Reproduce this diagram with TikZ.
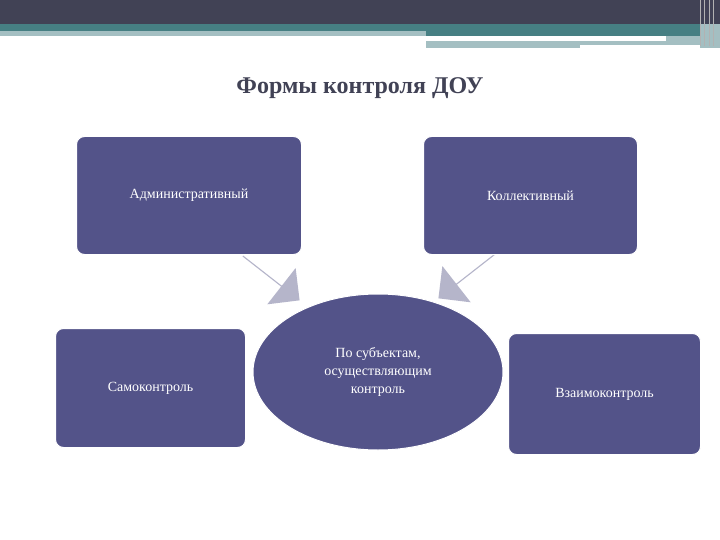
\documentclass[tikz,border=0pt]{standalone}
\usepackage{fontspec}
\setmainfont{Liberation Serif}
\usetikzlibrary{shapes.arrows,shapes.geometric}
\definecolor{boxc}{HTML}{535389}
\definecolor{dark}{HTML}{414255}
\definecolor{teal}{HTML}{467F83}
\definecolor{lite}{HTML}{A4BFC2}
\definecolor{arr}{HTML}{B5B5CA}
\tikzset{box/.style={draw=white,line width=1pt,fill=boxc,rounded corners=8pt,text=white,font=\fontsize{14}{17}\selectfont,align=center,anchor=north west},
 barr/.style={single arrow,fill=arr,minimum height=72pt,minimum width=46pt,single arrow head extend=8pt,inner sep=0pt}}
\begin{document}
\begin{tikzpicture}[x=1pt,y=-1pt]
\useasboundingbox (0,0) rectangle (720,540);
\fill[white] (0,0) rectangle (720,540);
\fill[dark] (0,0) rectangle (720,24);
\fill[teal] (0,24) rectangle (720,31);
\fill[lite] (0,31) rectangle (426,36);
\fill[teal] (426,31) rectangle (700,36);
\fill[lite] (666,36) rectangle (700,41);
\fill[lite] (426,41) rectangle (580,48);
\fill[lite] (580,41) rectangle (705,45);
\fill[lite] (700,24) rectangle (720,48);
\foreach \x in {700,704,709,713} \draw[gray!60,line width=0.6pt] (\x,0) -- (\x,46);
\node[font=\bfseries\fontsize{24}{28}\selectfont,text=dark] (title) at (360,88) {Формы контроля ДОУ};
\node[barr,rotate=-38] (a1) at (271,278) {};
\node[barr,rotate=218] (a2) at (467,276) {};
\node[box,minimum width=225pt,minimum height=118pt] (adm) at (76,136) {Административный};
\node[box,minimum width=214pt,minimum height=118pt] (kol) at (423,136) {Коллективный};
\node[box,minimum width=190pt,minimum height=119pt] (sam) at (55,328) {Самоконтроль};
\node[box,minimum width=192pt,minimum height=121pt] (vza) at (508,333) {Взаимоконтроль};
\node[ellipse,draw=white,line width=1pt,fill=boxc,text=white,minimum width=250pt,minimum height=156pt,align=center,font=\fontsize{14}{18}\selectfont] (po) at (378,372) {По субъектам,\\осуществляющим\\контроль};
\end{tikzpicture}
\end{document}
